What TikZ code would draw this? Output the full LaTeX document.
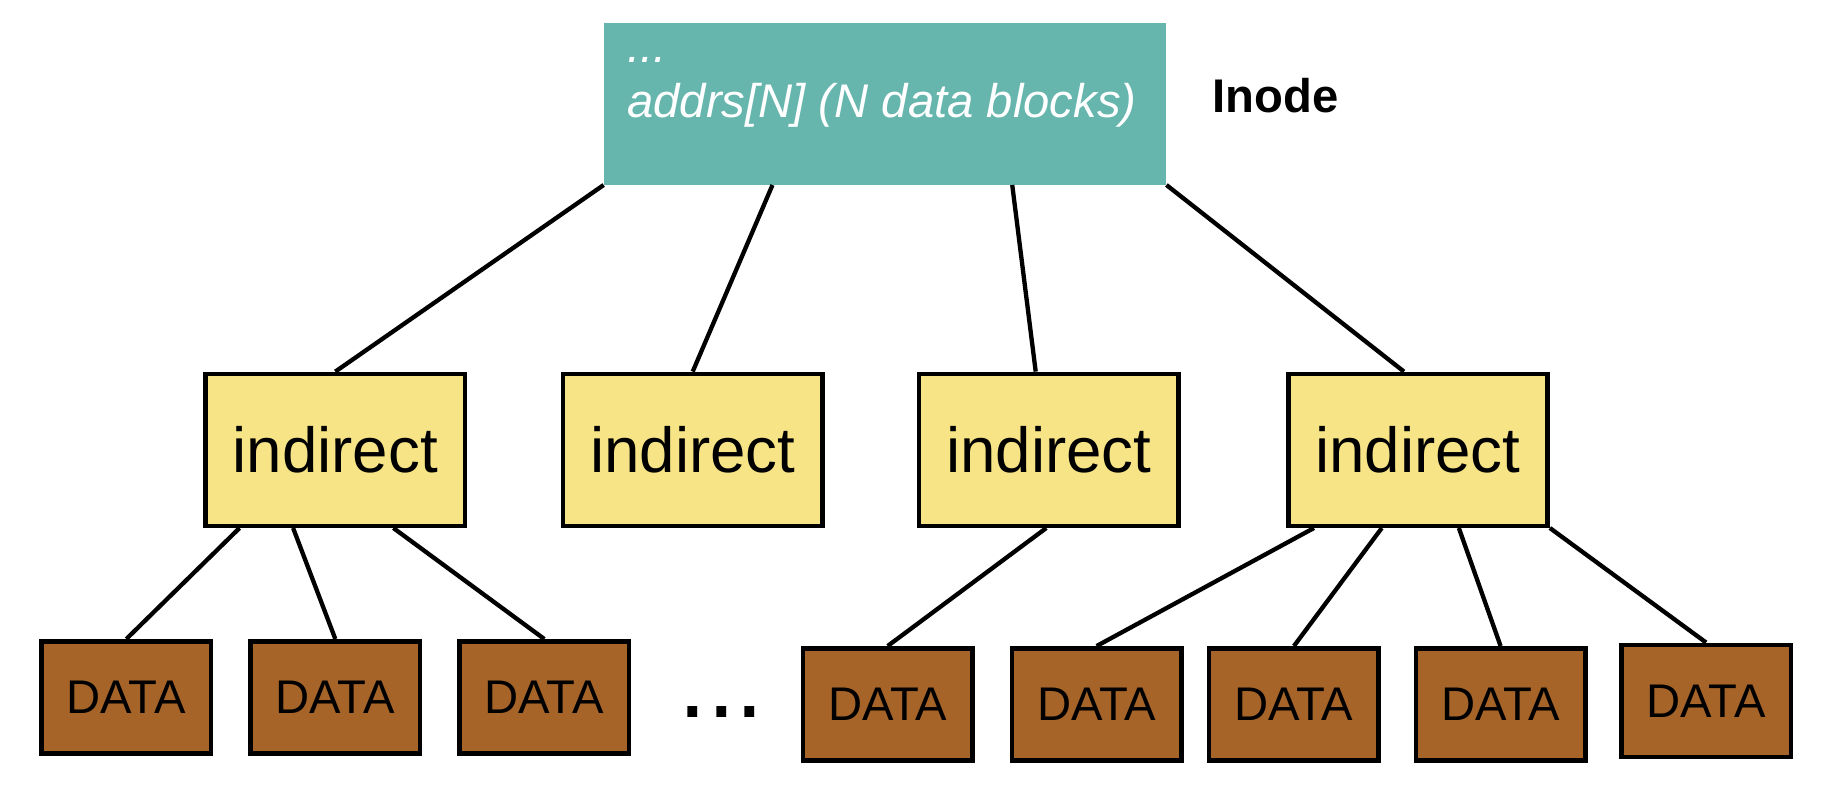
\documentclass[tikz,border=0pt]{standalone}
\usepackage{fontspec}
\setmainfont{Liberation Sans}
\usepackage{tikz}
\usetikzlibrary{positioning, calc}
\usepackage{xcolor}
\definecolor{inodeteal}{RGB}{102,182,174}
\definecolor{indyellow}{RGB}{246,228,134}
\definecolor{databrown}{RGB}{166,100,40}

\begin{document}
\begin{tikzpicture}[
    inodebox/.style={rectangle, fill=inodeteal, minimum width=9.62cm, minimum height=2.76cm},
    indirect/.style={rectangle, draw, line width=2.2pt, fill=indyellow, minimum width=4.44cm, minimum height=2.6cm, font=\fontsize{31}{37}\selectfont},
    datablk/.style={rectangle, draw, line width=2.2pt, fill=databrown, minimum width=2.9cm, minimum height=1.92cm, font=\fontsize{23}{27}\selectfont},
    link/.style={line width=2.1pt}
]
    \useasboundingbox (0,0) rectangle (31.36,13.46);

    % inode
    \node [inodebox] (inode) at (15.15,11.68) {};
    \node [below right=0cm and 0.4cm of inode.north west, inner sep=0, align=left, text=white, font=\fontsize{23}{27}\selectfont\itshape] (inodetxt) {\strut...\\addrs[N] (N data blocks)};
    \node [right=0.78cm of inode.east, yshift=0.15cm, inner sep=0, font=\fontsize{23}{27}\selectfont\bfseries] (inodelbl) {Inode};

    % indirect blocks
    \node [indirect] (ind1) at (5.74,5.76) {indirect};
    \node [indirect, right=1.6cm of ind1] (ind2) {indirect};
    \node [indirect, right=1.58cm of ind2] (ind3) {indirect};
    \node [indirect, right=1.8cm of ind3] (ind4) {indirect};

    % data blocks
    \node [datablk, below=1.9cm of ind1] (d2) {DATA};
    \node [datablk, left=0.6cm of d2] (d1) {DATA};
    \node [datablk, right=0.6cm of d2] (d3) {DATA};
    \node [datablk, right=2.9cm of d3, yshift=-0.12cm] (d4) {DATA};
    \node [datablk, right=0.6cm of d4] (d5) {DATA};
    \node [datablk, right=0.4cm of d5] (d6) {DATA};
    \node [datablk, right=0.56cm of d6] (d7) {DATA};
    \node [datablk, right=0.54cm of d7, yshift=0.06cm] (d8) {DATA};
    \node [font=\fontsize{50}{60}\selectfont] (gap) at (12.35,1.28) {...};

    % inode to indirect
    \draw [link] (inode.south west) -- (ind1.north);
    \draw [link] ($(inode.south west)!0.3!(inode.south east)$) -- (ind2.north);
    \draw [link] ($(inode.south west)!0.726!(inode.south east)$) -- ($(ind3.north west)!0.45!(ind3.north east)$);
    \draw [link] (inode.south east) -- ($(ind4.north west)!0.447!(ind4.north east)$);

    % indirect to data
    \draw [link] ($(ind1.south west)!0.137!(ind1.south east)$) -- (d1.north);
    \draw [link] ($(ind1.south west)!0.34!(ind1.south east)$) -- (d2.north);
    \draw [link] ($(ind1.south west)!0.72!(ind1.south east)$) -- (d3.north);
    \draw [link] ($(ind3.south west)!0.49!(ind3.south east)$) -- (d4.north);
    \draw [link] ($(ind4.south west)!0.106!(ind4.south east)$) -- (d5.north);
    \draw [link] ($(ind4.south west)!0.363!(ind4.south east)$) -- (d6.north);
    \draw [link] ($(ind4.south west)!0.655!(ind4.south east)$) -- (d7.north);
    \draw [link] (ind4.south east) -- (d8.north);
\end{tikzpicture}
\end{document}
